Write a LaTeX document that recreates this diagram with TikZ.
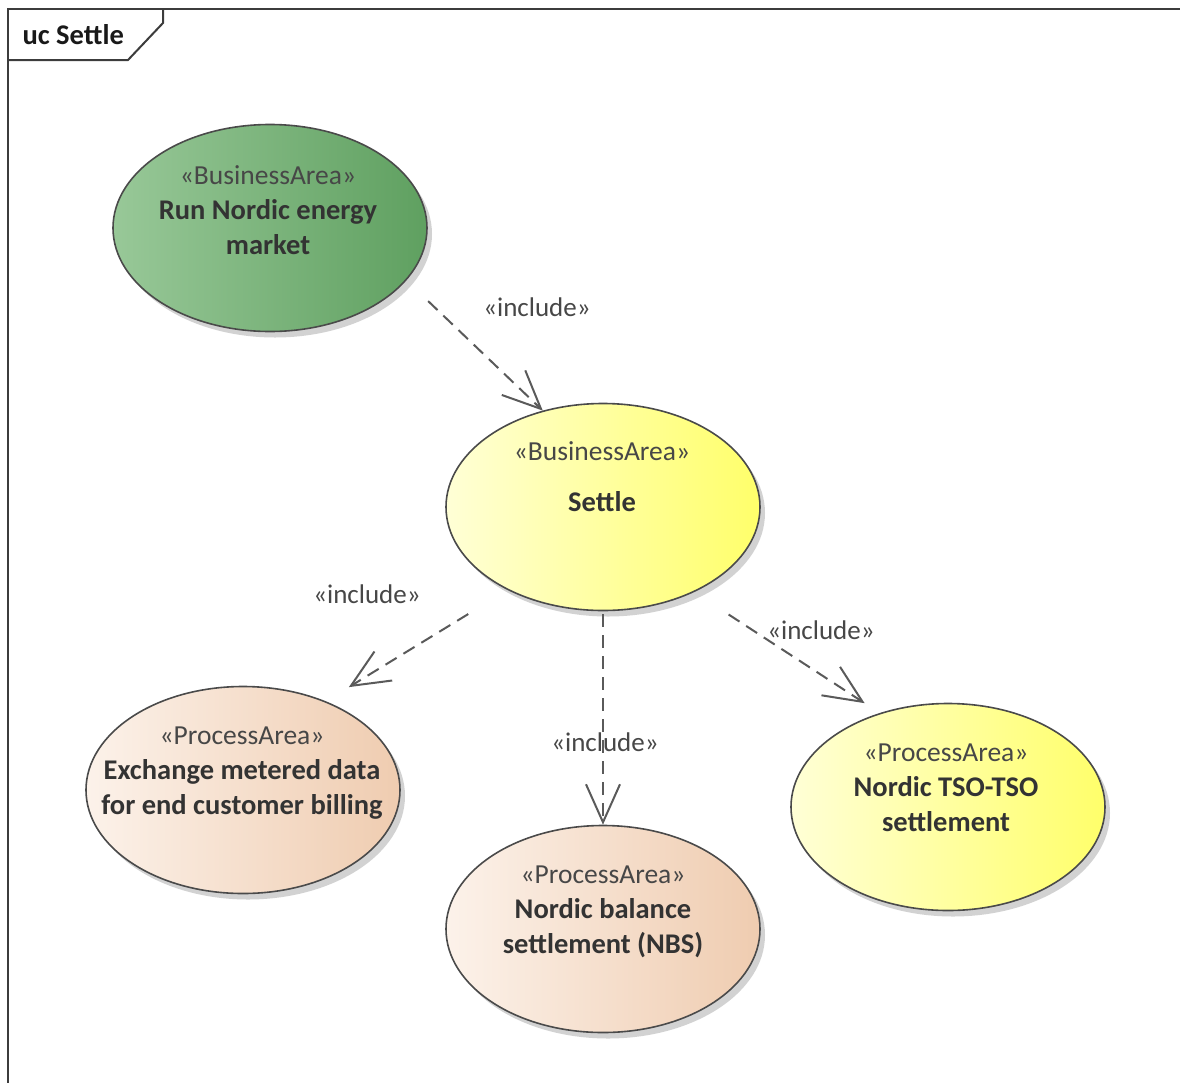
\documentclass[tikz,border=0pt]{standalone}
\usepackage{fontspec}
\setmainfont{Carlito}
\usetikzlibrary{arrows.meta,shapes.geometric,shadows}

\definecolor{framegray}{HTML}{3C3C3C}
\definecolor{ucborder}{HTML}{4A4A4A}
\definecolor{txtgray}{HTML}{333333}
\definecolor{arrgray}{HTML}{5A5A5A}
\definecolor{greenL}{HTML}{98C898}
\definecolor{greenR}{HTML}{5FA060}
\definecolor{yellowL}{HTML}{FFFFD6}
\definecolor{yellowR}{HTML}{FFFF6A}
\definecolor{peachL}{HTML}{FCF2EA}
\definecolor{peachR}{HTML}{EFCCB0}

\newcommand{\stereo}[1]{{\mdseries\fontsize{27.5}{35}\selectfont\color{txtgray!90}«#1»}}

\begin{document}
\begin{tikzpicture}[
    x=1pt, y=-1pt,
    >={Straight Barb[length=38pt, width=34pt, line width=2pt]},
    uc/.style={
        ellipse, draw=ucborder, line width=1.6pt,
        minimum width=314pt, minimum height=207pt,
        drop shadow={shadow xshift=5pt, shadow yshift=-6pt,
                     opacity=0.25, fill=black!70}
    },
    busgreen/.style={left color=greenL, right color=greenR},
    busyellow/.style={left color=yellowL, right color=yellowR},
    procpeach/.style={left color=peachL, right color=peachR},
    uctext/.style={
        align=center, text=txtgray, inner sep=0pt,
        font=\fontsize{28.5}{35}\selectfont\bfseries
    },
    lbl/.style={text=txtgray!90, font=\fontsize{27}{35}\selectfont},
    incl/.style={->, draw=arrgray, line width=2pt,
        dash pattern=on 13pt off 8pt}
]
\useasboundingbox (0,0) rectangle (1180,1082);

% frame
\draw[framegray, line width=2.5pt] (8,1090) -- (8,9) -- (1190,9);
\draw[framegray, line width=2pt] (8,60) -- (128,60) -- (163,23) -- (163,9);
\node[text=black!90, font=\fontsize{28.5}{30}\selectfont\bfseries, anchor=west]
  (title) at (19,35) {uc Settle};

% use cases
\node[uc, busgreen] (run) at (270,228) {};
\node[uc, busyellow] (settle) at (603,507) {};
\node[uc, procpeach] (exch) at (243,790) {};
\node[uc, procpeach] (nbs) at (603,929) {};
\node[uc, busyellow] (tso) at (948,807) {};

\node[uctext] (run-txt) at (268,210) {\stereo{BusinessArea}\\ Run Nordic energy\\ market};
\node[uctext] (settle-txt) at (602,477) {\stereo{BusinessArea}\\[16pt] Settle};
\node[uctext] (exch-txt) at (242,773) {\stereo{ProcessArea}\\ Exchange metered data\\ for end customer billing};
\node[uctext] (nbs-txt) at (603,912) {\stereo{ProcessArea}\\ Nordic balance\\ settlement (NBS)};
\node[uctext] (tso-txt) at (946,788) {\stereo{ProcessArea}\\ Nordic TSO-TSO\\ settlement};

% include relations
\draw[incl, shorten <=30pt] (run.-21) -- (settle.122);
\draw[incl, shorten <=46pt, shorten >=27pt] (settle.221) -- (exch.47);
\draw[incl, shorten <=3pt] (settle.south) -- (nbs.north);
\draw[incl, shorten <=41pt, shorten >=18pt] (settle.-43) -- (tso.126);

\node[lbl] (l-run) at (537,307) {«include»};
\node[lbl] (l-exch) at (367,594) {«include»};
\node[lbl] (l-nbs) at (605,742) {«include»};
\node[lbl] (l-tso) at (821,630) {«include»};
\end{tikzpicture}
\end{document}
